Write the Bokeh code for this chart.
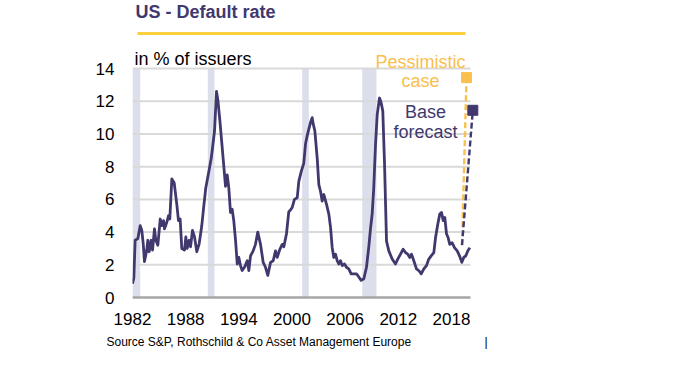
from bokeh.plotting import figure
from bokeh.models import Range1d, FixedTicker, Title
from bokeh.embed import file_html
from bokeh.resources import INLINE
from bokeh.core.properties import value

# ---------------- data ----------------
years = [1982.00, 1982.15, 1982.30, 1982.60, 1982.87, 1983.05, 1983.21, 1983.35, 1983.61, 1983.73,
         1983.88, 1984.11, 1984.26, 1984.48, 1984.63, 1984.86, 1985.13, 1985.31, 1985.50, 1985.61,
         1985.87, 1986.06, 1986.21, 1986.44, 1986.71, 1987.00, 1987.19, 1987.38, 1987.56, 1987.87,
         1988.02, 1988.17, 1988.40, 1988.55, 1988.77, 1989.00, 1989.26, 1989.53, 1989.82, 1990.05,
         1990.27, 1990.58, 1990.88, 1991.00, 1991.26, 1991.48, 1991.63, 1991.85, 1992.12, 1992.31,
         1992.50, 1992.69, 1992.87, 1993.06, 1993.25, 1993.43, 1993.63, 1993.82, 1994.00, 1994.19,
         1994.38, 1994.64, 1994.95, 1995.13, 1995.32, 1995.62, 1995.88, 1996.14, 1996.45, 1996.75,
         1997.01, 1997.27, 1997.58, 1997.88, 1998.14, 1998.33, 1998.63, 1998.90, 1999.08, 1999.38,
         1999.64, 1999.83, 2000.02, 2000.28, 2000.59, 2000.77, 2001.04, 2001.33, 2001.53, 2001.72,
         2001.90, 2002.09, 2002.28, 2002.40, 2002.58, 2002.85, 2003.03, 2003.22, 2003.41, 2003.59,
         2003.90, 2004.16, 2004.35, 2004.54, 2004.72, 2004.91, 2005.10, 2005.28, 2005.48, 2005.67,
         2005.93, 2006.15, 2006.41, 2006.68, 2006.98, 2007.28, 2007.54, 2007.81, 2008.11, 2008.41,
         2008.67, 2008.86, 2009.05, 2009.23, 2009.43, 2009.62, 2009.88, 2010.07, 2010.25, 2010.44,
         2010.67, 2010.93, 2011.31, 2011.68, 2011.94, 2012.25, 2012.55, 2012.81, 2013.07, 2013.30,
         2013.49, 2013.75, 2014.05, 2014.31, 2014.59, 2014.88, 2015.18, 2015.44, 2015.71, 2016.01,
         2016.20, 2016.46, 2016.68, 2016.88, 2017.07, 2017.25, 2017.44, 2017.63, 2017.81, 2018.08,
         2018.34, 2018.65, 2018.91, 2019.17, 2019.39, 2019.62, 2019.84, 2020.07]
default_rate = [0.85, 1.2, 3.5, 3.6, 4.4, 4.1, 3.3, 2.2, 2.9, 3.5,
                2.8, 3.5, 2.9, 4.2, 3.5, 3.2, 4.8, 4.4, 4.7, 4.2,
                4.6, 5.0, 4.8, 7.25, 7.0, 5.7, 4.7, 4.8, 3.0, 2.9,
                3.7, 3.0, 3.5, 3.1, 4.1, 3.7, 2.8, 3.3, 4.4, 5.6,
                6.7, 7.6, 8.5, 9.0, 10.2, 12.6, 12.1, 10.9, 9.2, 8.0,
                6.8, 7.5, 6.7, 5.2, 5.4, 4.7, 3.5, 2.05, 2.45, 1.95,
                1.65, 1.85, 2.25, 1.65, 2.55, 2.85, 3.25, 4.0, 3.25, 2.15,
                1.85, 1.35, 2.15, 2.25, 2.85, 2.45, 2.95, 3.25, 3.1, 3.9,
                5.25, 5.35, 5.5, 6.0, 6.1, 7.1, 7.7, 8.2, 9.4, 9.9,
                10.3, 10.7, 11.0, 10.6, 10.2, 8.5, 6.9, 6.5, 5.9, 6.3,
                5.7, 5.1, 4.3, 3.05, 2.45, 2.65, 2.25, 2.05, 2.25, 1.95,
                2.05, 1.85, 1.75, 1.45, 1.45, 1.45, 1.25, 1.05, 1.15, 1.85,
                3.1, 4.2, 5.1, 6.7, 9.35, 11.2, 12.2, 11.9, 11.4, 8.3,
                3.45, 2.85, 2.35, 2.05, 2.35, 2.65, 2.95, 2.75, 2.65, 2.45,
                2.65, 2.25, 1.75, 1.65, 1.45, 1.75, 1.95, 2.35, 2.55, 2.75,
                3.65, 4.5, 5.1, 5.2, 4.7, 4.9, 3.9, 3.65, 3.25, 3.35,
                3.05, 2.85, 2.55, 2.15, 2.45, 2.55, 2.85, 3.05]

recession_start = [1982.00, 1990.50, 2001.15, 2007.93]
recession_end = [1982.87, 1991.25, 2001.90, 2009.54]

pessimistic_years = [2019.19, 2019.70]
pessimistic_rate = [3.2, 13.45]
base_years = [2019.19, 2020.41]
base_rate = [3.2, 11.45]

x_ticks = [1982, 1988, 1994, 2000, 2006, 2012, 2018]
y_ticks = [0, 2, 4, 6, 8, 10, 12, 14]
x_data_end = 2020.15

# ---------------- colours / fonts ----------------
PURPLE = "#41386E"
YELLOW = "#FCCF3E"
ORANGE = "#F9C04E"
BAND = "#DCDFEB"
GRID = "#D9D9D9"
FONT = "Liberation Sans"

# pixel -> data helpers (frame: x 132..480, y 4..299)
PX_PER_YEAR = 8.86
PX_PER_UNIT = 16.35
TXT_SHIFT = 7  # svg text baseline correction


def vx(px):
    return 1982 + (px - 132) / PX_PER_YEAR


def vy(py):
    return (297 - py) / PX_PER_UNIT


def ty(py):
    return vy(py - TXT_SHIFT)


p = figure(width=700, height=375, title=None,
           x_range=Range1d(1982, vx(480)), y_range=Range1d(vy(299), vy(4)),
           output_backend="svg", toolbar_location=None,
           min_border_left=132, min_border_right=220, min_border_top=4, min_border_bottom=76)
p.outline_line_color = None
p.xgrid.visible = False
p.ygrid.visible = False
p.background_fill_color = "white"
p.border_fill_color = "white"

# recession bands
p.quad(left=recession_start, right=recession_end, bottom=0, top=max(y_ticks),
       fill_color=BAND, line_color=None)

# horizontal grid lines (over the data span only)
grid_vals = [v for v in y_ticks if v > 0]
p.segment(x0=[1982] * len(grid_vals), x1=[x_data_end] * len(grid_vals),
          y0=grid_vals, y1=grid_vals, line_color=GRID, line_width=2)
# x baseline
p.segment(x0=[1982], x1=[x_data_end], y0=[0], y1=[0], line_color="#A6A6A6", line_width=2.5)

# main series
p.line(years, default_rate, line_color=PURPLE, line_width=2.8, line_join="round")

# forecasts
p.line(pessimistic_years, pessimistic_rate, line_color=ORANGE, line_width=2.4, line_dash="6 3")
p.line(base_years, base_rate, line_color=PURPLE, line_width=2.4, line_dash="6 3")
p.scatter([pessimistic_years[-1]], [pessimistic_rate[-1]], marker="square", size=10,
          fill_color=ORANGE, line_color=ORANGE)
p.scatter([base_years[-1]], [base_rate[-1]], marker="square", size=10,
          fill_color=PURPLE, line_color=PURPLE)

# axes
p.xaxis.ticker = FixedTicker(ticks=x_ticks)
p.yaxis.ticker = FixedTicker(ticks=y_ticks)
for ax in (p.xaxis[0], p.yaxis[0]):
    ax.axis_line_color = None
    ax.major_tick_line_color = None
    ax.minor_tick_line_color = None
    ax.major_label_text_font = FONT
    ax.major_label_text_font_size = "17px"
    ax.major_label_text_color = "black"
p.xaxis.major_label_standoff = 7
p.yaxis.major_label_standoff = 12

# texts inside frame
p.text(x=[vx(135)], y=[ty(18.5)], text=["US - Default rate"], text_font=value(FONT),
       text_font_size="18px", text_font_style="bold", text_color=PURPLE,
       text_align="left", text_baseline="alphabetic")
p.segment(x0=[vx(137)], x1=[vx(465)], y0=[vy(33)], y1=[vy(33)], line_color=YELLOW, line_width=3)
p.text(x=[vx(134)], y=[ty(65)], text=["in % of issuers"], text_font=value(FONT),
       text_font_size="18px", text_color="black", text_align="left", text_baseline="alphabetic")
p.text(x=[vx(420), vx(420)], y=[ty(68), ty(87)], text=["Pessimistic", "case"],
       text_font=value(FONT), text_font_size="18px", text_color=ORANGE,
       text_align="center", text_baseline="alphabetic")
p.text(x=[vx(425), vx(425)], y=[ty(118), ty(138)], text=["Base", "forecast"],
       text_font=value(FONT), text_font_size="18px", text_color=PURPLE,
       text_align="center", text_baseline="alphabetic")

# source line below the axis (with the small vertical mark at its right)
source_text = "Source S&P, Rothschild & Co Asset Management Europe"
src = Title(text=source_text + "\u00a0" * 22 + "|", align="left",
            text_font=FONT, text_font_size="12px", text_font_style="normal",
            text_color="black", offset=-26, standoff=11)
p.add_layout(src, "below")

open("out.html", "w").write(file_html(p, INLINE))
